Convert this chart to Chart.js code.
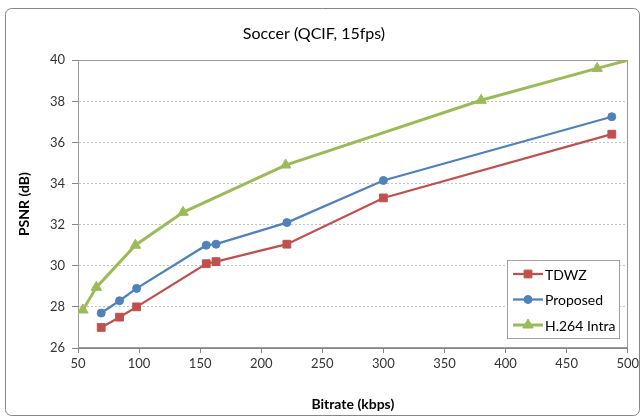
<!DOCTYPE html>
<html lang="en">
<head>
<meta charset="UTF-8">
<title>Soccer (QCIF, 15fps)</title>
<script src="https://cdn.jsdelivr.net/npm/chart.js"></script>
<style>
    body { margin: 0; background: #fff; }
    canvas { display: block; }
</style>
</head>
<body>
<canvas id="psnrChart" width="642" height="419"></canvas>
<script>
// rate (kbps) / PSNR (dB) pairs
const tdwzRate = [69, 84, 98, 155, 163, 221, 300, 487];
const tdwzPsnr = [27.0, 27.5, 28.0, 30.1, 30.2, 31.05, 33.3, 36.4];
const proposedRate = [69, 84, 98, 155, 163, 221, 300, 487];
const proposedPsnr = [27.7, 28.3, 28.9, 31.0, 31.05, 32.1, 34.15, 37.25];
const intraRate = [54, 65, 97, 136, 220, 380, 475, 500];
const intraPsnr = [27.85, 28.95, 31.0, 32.6, 34.9, 38.05, 39.6, 40.0];
const seriesNames = ['TDWZ', 'Proposed', 'H.264 Intra'];
const xTicks = [50, 100, 150, 200, 250, 300, 350, 400, 450, 500];
const yTicks = [26, 28, 30, 32, 34, 36, 38, 40];

const FONT = 'Lato, "Open Sans", sans-serif';
const toPoints = (xs, ys) => xs.map((x, i) => ({ x: x, y: ys[i] }));
const markerSize = [5.5, 4, 6];

// white background + rounded outer frame + plot area frame
const framePlugin = {
    id: 'frame',
    beforeDraw(chart) {
        const ctx = chart.ctx;
        ctx.save();
        ctx.fillStyle = '#fff';
        ctx.fillRect(0, 0, chart.width, chart.height);
        ctx.strokeStyle = '#868686';
        ctx.lineWidth = 1;
        ctx.beginPath();
        ctx.roundRect(5.5, 8.5, 634, 407, 6);
        ctx.stroke();
        ctx.restore();
    },
    beforeDatasetsDraw(chart) {
        const a = chart.chartArea;
        const ctx = chart.ctx;
        ctx.save();
        ctx.strokeStyle = '#9a9a9a';
        ctx.lineWidth = 1;
        ctx.strokeRect(Math.round(a.left) + 0.5, Math.round(a.top) + 0.5,
            Math.round(a.right - a.left) - 1, Math.round(a.bottom - a.top) - 1);
        ctx.restore();
    }
};

function drawMarker(ctx, style, r, x, y) {
    ctx.beginPath();
    if (style === 'rect') {
        const s = r * Math.SQRT1_2;
        ctx.rect(x - s, y - s, 2 * s, 2 * s);
    } else if (style === 'circle') {
        ctx.arc(x, y, r, 0, Math.PI * 2);
    } else {
        ctx.moveTo(x, y - r);
        ctx.lineTo(x + r * 0.866, y + r * 0.5);
        ctx.lineTo(x - r * 0.866, y + r * 0.5);
        ctx.closePath();
    }
    ctx.fill();
    ctx.stroke();
}

// legend box inside the plot, lower right
const boxLegend = {
    id: 'boxLegend',
    afterDraw(chart) {
        const ctx = chart.ctx;
        const bx = 507, by = 260, bw = 112, bh = 78;
        ctx.save();
        ctx.fillStyle = '#fff';
        ctx.fillRect(bx, by, bw, bh);
        ctx.strokeStyle = '#a0a0a0';
        ctx.lineWidth = 1;
        ctx.strokeRect(bx + 0.5, by + 0.5, bw, bh);
        chart.data.datasets.forEach((ds, i) => {
            const y = by + 14 + i * 25.5;
            ctx.strokeStyle = ds.borderColor;
            ctx.lineWidth = ds.borderWidth;
            ctx.beginPath();
            ctx.moveTo(bx + 6, y);
            ctx.lineTo(bx + 36, y);
            ctx.stroke();
            ctx.fillStyle = ds.pointBackgroundColor;
            ctx.lineWidth = 1;
            drawMarker(ctx, ds.pointStyle, markerSize[i], bx + 21, y);
            ctx.fillStyle = '#000';
            ctx.font = '14px ' + FONT;
            ctx.textBaseline = 'middle';
            ctx.textAlign = 'left';
            ctx.fillText(ds.label, bx + 38, y + 1);
        });
        ctx.restore();
    }
};

new Chart(document.getElementById('psnrChart'), {
    type: 'line',
    data: {
        datasets: [{
            label: seriesNames[0],
            data: toPoints(tdwzRate, tdwzPsnr),
            borderColor: '#C0504D',
            backgroundColor: '#C0504D',
            pointBackgroundColor: '#C0504D',
            borderWidth: 2.25,
            pointStyle: 'rect',
            pointRadius: markerSize[0],
            pointBorderWidth: 1
        }, {
            label: seriesNames[1],
            data: toPoints(proposedRate, proposedPsnr),
            borderColor: '#4F81BD',
            backgroundColor: '#4F81BD',
            pointBackgroundColor: '#4F81BD',
            borderWidth: 2.25,
            pointStyle: 'circle',
            pointRadius: markerSize[1],
            pointBorderWidth: 1
        }, {
            label: seriesNames[2],
            data: toPoints(intraRate, intraPsnr),
            borderColor: '#9BBB59',
            backgroundColor: '#9BBB59',
            pointBackgroundColor: '#9BBB59',
            borderWidth: 3,
            pointStyle: 'triangle',
            // last point sits on the plot corner, no marker shown there
            pointRadius: c => c.dataIndex === intraRate.length - 1 ? 0 : markerSize[2],
            pointBorderWidth: 1
        }]
    },
    options: {
        responsive: false,
        animation: false,
        layout: { padding: { left: 0, right: 14, top: 0, bottom: 0 } },
        elements: { line: { tension: 0, fill: false } },
        scales: {
            x: {
                type: 'linear',
                min: xTicks[0],
                max: xTicks[xTicks.length - 1],
                afterBuildTicks: s => { s.ticks = xTicks.map(v => ({ value: v })); },
                afterFit: s => { s.height = 71; },
                ticks: { color: '#333', font: { size: 13, family: FONT }, padding: 3, maxRotation: 0 },
                grid: { drawOnChartArea: false, tickLength: 5, tickColor: '#868686' },
                border: { color: '#868686' },
                title: {
                    display: true,
                    text: 'Bitrate (kbps)',
                    color: '#000',
                    font: { size: 14, weight: 'bold', family: FONT },
                    padding: { top: 0, bottom: 6 }
                }
            },
            y: {
                min: yTicks[0],
                max: yTicks[yTicks.length - 1],
                afterBuildTicks: s => { s.ticks = yTicks.map(v => ({ value: v })); },
                afterFit: s => { s.width = 78; },
                ticks: { color: '#333', font: { size: 13, family: FONT }, padding: 7 },
                grid: { color: '#c4c4c4', tickLength: 6, tickColor: '#868686', tickBorderDash: [] },
                border: { color: '#868686', dash: [2, 2] },
                title: {
                    display: true,
                    text: 'PSNR (dB)',
                    color: '#000',
                    font: { size: 14, weight: 'bold', family: FONT },
                    padding: { top: 16, bottom: 0 }
                }
            }
        },
        plugins: {
            legend: { display: false },
            tooltip: { enabled: false },
            title: {
                display: true,
                text: 'Soccer (QCIF, 15fps)',
                color: '#000',
                font: { size: 16, weight: 'normal', family: FONT },
                padding: { top: 24, bottom: 17 }
            }
        }
    },
    plugins: [framePlugin, boxLegend]
});
</script>
</body>
</html>
